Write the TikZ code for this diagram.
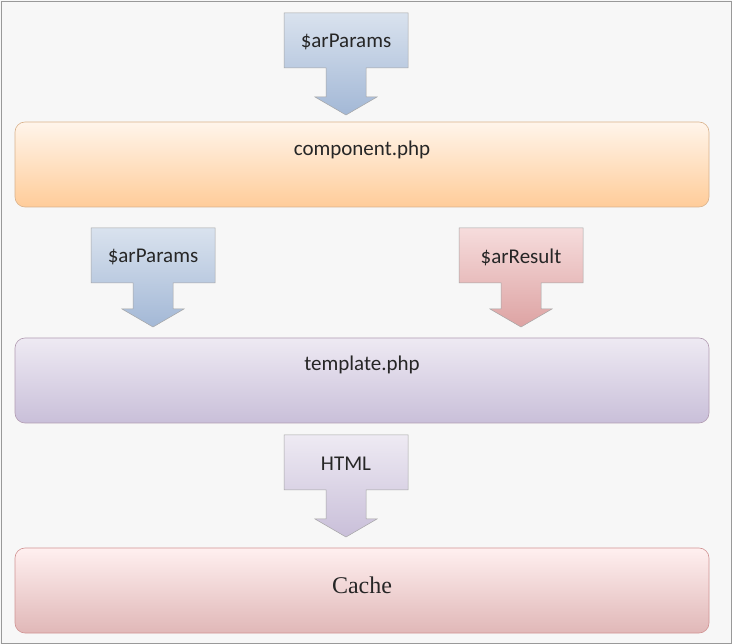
\documentclass[tikz,border=0pt]{standalone}
\usepackage{fontspec}
\setmainfont{Carlito}
\newfontfamily\serifcache{Liberation Serif}
\definecolor{bluetop}{HTML}{D9E2EE}
\definecolor{bluebot}{HTML}{A3B8D6}
\definecolor{redtop}{HTML}{F6DCDC}
\definecolor{redbot}{HTML}{DDA3A3}
\definecolor{purtop}{HTML}{EEEAF3}
\definecolor{purbot}{HTML}{C9BFD9}
\begin{document}
\begin{tikzpicture}[x=1pt,y=-1pt,
  bar/.style={rounded corners=10pt,draw=#1,line width=0.6pt},
  lbl/.style={font=\fontsize{21}{24}\selectfont,text=black!85},
  blueC/.style={draw=black!35,line width=0.5pt,top color=bluetop,bottom color=bluebot},
  redC/.style={draw=black!35,line width=0.5pt,top color=redtop,bottom color=redbot},
  purC/.style={draw=black!35,line width=0.5pt,top color=purtop,bottom color=purbot}]
\useasboundingbox (0,0) rectangle (732,644);
\fill[black!3] (0,0) rectangle (732,644);
\draw[black!40] (1,1) rectangle (731,643);
\newcommand\mycallout[6]{%
  \path[#6] (#1-62,#2) -- (#1+62,#2) -- (#1+62,#2+55) -- (#1+20,#2+55) -- (#1+20,#3-18)
    -- (#1+31,#3-18) -- (#1,#3) -- (#1-31,#3-18) -- (#1-20,#3-18) -- (#1-20,#2+55) -- (#1-62,#2+55) -- cycle;
  \node[lbl] (#4) at (#1,#2+29) {#5};}
\path[bar=orange!50!gray!60,top color=orange!8!white,bottom color=orange!40!white] (15,122) rectangle (709,207);
\node[lbl] (comp) at (362,150) {component.php};
\path[bar=violet!30!gray!60,top color=purtop,bottom color=purbot] (15,338) rectangle (709,423);
\node[lbl] (tmpl) at (362,365) {template.php};
\path[bar=red!40!gray!60,top color=red!6!white,bottom color=red!40!gray!40] (15,548) rectangle (709,633);
\node[font=\serifcache\fontsize{24}{26}\selectfont,text=black!85] (cache) at (362,585) {Cache};
\mycallout{346}{13}{115}{p1}{\$arParams}{blueC}
\mycallout{153}{228}{327}{p2}{\$arParams}{blueC}
\mycallout{521}{228}{327}{res}{\$arResult}{redC}
\mycallout{346}{435}{537}{html}{HTML}{purC}
\end{tikzpicture}
\end{document}
